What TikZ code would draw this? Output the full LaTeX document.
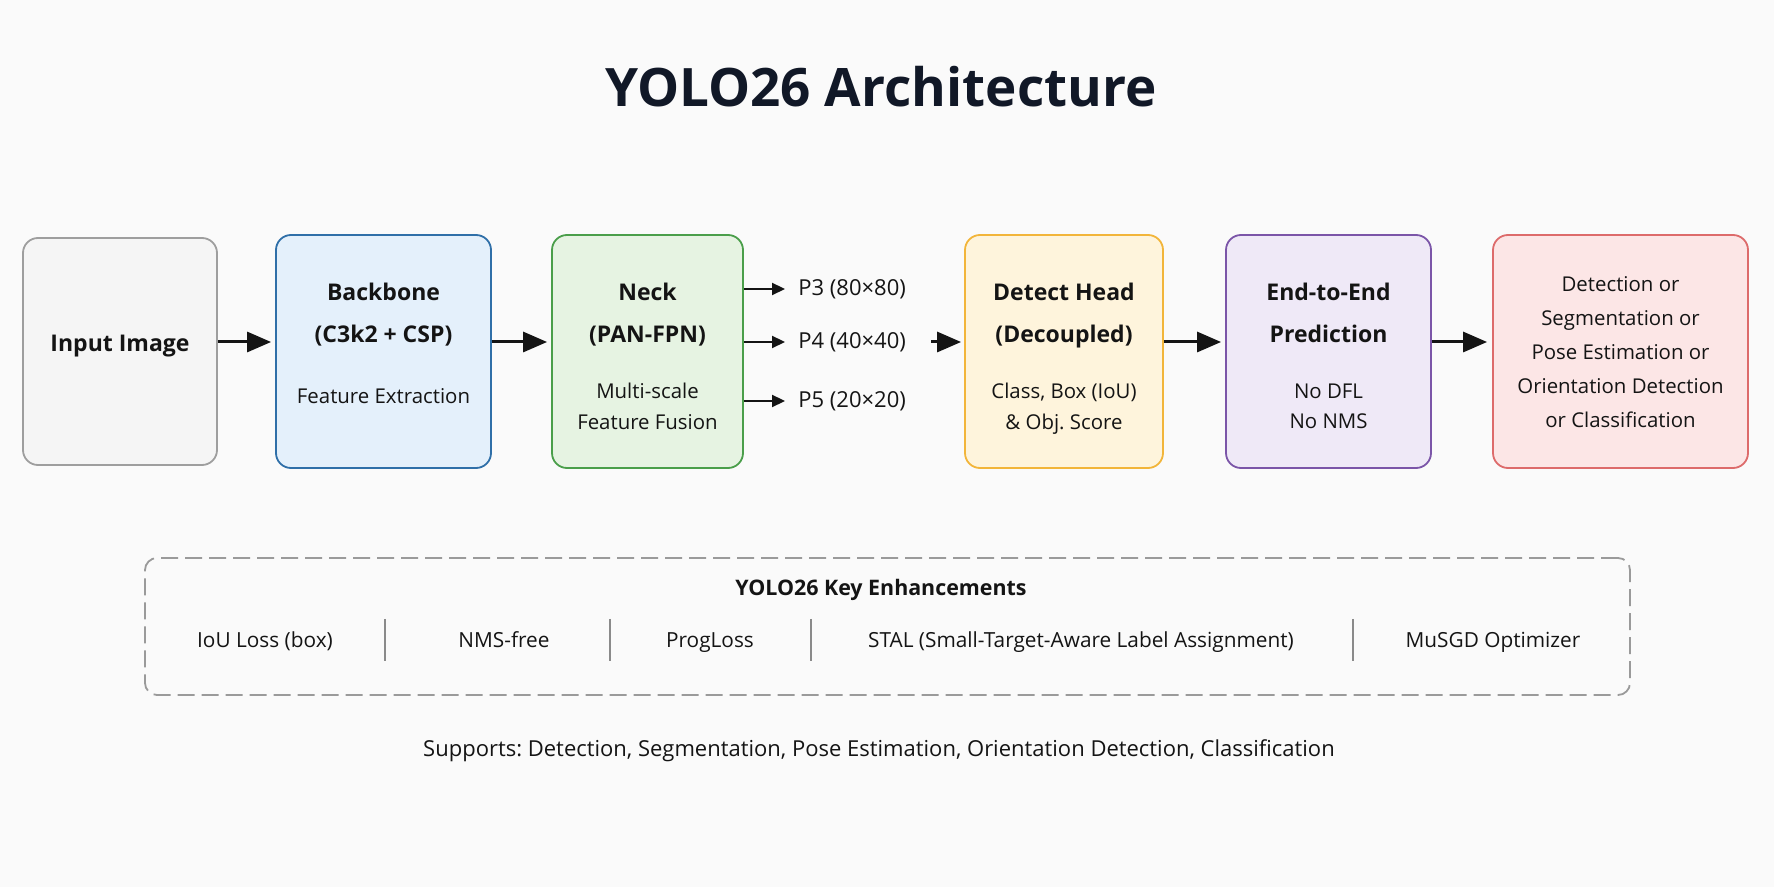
\documentclass[tikz,border=0pt]{standalone}
\usepackage{fontspec}
\setmainfont{Open Sans}
\usetikzlibrary{arrows.meta,calc}
\frenchspacing
\definecolor{bgc}{HTML}{FAFAFA}
\definecolor{ink}{HTML}{141414}
\definecolor{titlec}{HTML}{111827}
\definecolor{inF}{HTML}{F5F5F5}\definecolor{inD}{HTML}{9E9E9E}
\definecolor{bbF}{HTML}{E4F0FB}\definecolor{bbD}{HTML}{2F6FA8}
\definecolor{nkF}{HTML}{E6F3E2}\definecolor{nkD}{HTML}{4A9E4A}
\definecolor{dhF}{HTML}{FEF4DC}\definecolor{dhD}{HTML}{F2B53A}
\definecolor{eeF}{HTML}{EFE9F7}\definecolor{eeD}{HTML}{7B55A8}
\definecolor{ouF}{HTML}{FCE6E6}\definecolor{ouD}{HTML}{DD6B6B}
\definecolor{dashc}{HTML}{9A9A9A}
\definecolor{sepc}{HTML}{8A8A8A}
\begin{document}
\frenchspacing
\begin{tikzpicture}[x=0.5pt,y=-0.5pt,
  box/.style={rounded corners=7.5pt, line width=0.9pt, inner sep=0pt},
  bt/.style={font=\fontsize{11.5}{14}\selectfont\bfseries, text=ink, anchor=base, inner sep=0pt},
  rt/.style={font=\fontsize{10.2}{12}\selectfont, text=ink, anchor=base, inner sep=0pt},
  lt/.style={font=\fontsize{11}{13}\selectfont, text=ink, anchor=base, inner sep=0pt},
  arr/.style={-{Triangle[length=12pt,width=10pt]}, line width=1.5pt, draw=ink},
  parr/.style={-{Triangle[length=6.5pt,width=6pt]}, line width=1.1pt, draw=ink},
  sepline/.style={draw=sepc, line width=0.8pt}]
\fill[bgc] (0,0) rectangle (1774,887);
\useasboundingbox (0,0) rectangle (1774,887);
% title
\node[anchor=base, inner sep=0pt, text=titlec, font=\fontsize{26.5}{32}\selectfont\bfseries] (title) at (881,107) {YOLO26 Architecture};
% boxes
\node[box, fill=inF, draw=inD, minimum width=97pt, minimum height=113.5pt] (in) at (120,351.5) {};
\node[box, fill=bbF, draw=bbD, minimum width=107.5pt, minimum height=116.5pt] (bb) at (383.5,351.5) {};
\node[box, fill=nkF, draw=nkD, minimum width=95.5pt, minimum height=116.5pt] (nk) at (647.5,351.5) {};
\node[box, fill=dhF, draw=dhD, minimum width=99pt, minimum height=116.5pt] (dh) at (1064,351.5) {};
\node[box, fill=eeF, draw=eeD, minimum width=102.5pt, minimum height=116.5pt] (ee) at (1328.5,351.5) {};
\node[box, fill=ouF, draw=ouD, minimum width=127.5pt, minimum height=116.5pt] (ou) at (1620.5,351.5) {};
% box texts
\node[bt] (in1) at (120,352) {Input Image};
\node[bt] (bb1) at (383.5,301) {Backbone};
\node[bt] (bb2) at (383.5,343) {(C3k2 + CSP)};
\node[rt] (bb3) at (383.5,404) {Feature Extraction};
\node[bt] (nk1) at (647.5,301) {Neck};
\node[bt] (nk2) at (647.5,343) {(PAN-FPN)};
\node[rt] (nk3) at (647.5,399) {Multi-scale};
\node[rt] (nk4) at (647.5,430) {Feature Fusion};
\node[bt] (dh1) at (1064,301) {Detect Head};
\node[bt] (dh2) at (1064,343) {(Decoupled)};
\node[rt] (dh3) at (1064,399) {Class, Box (IoU)};
\node[rt] (dh4) at (1064,430) {\& Obj. Score};
\node[bt] (ee1) at (1328.5,301) {End-to-End};
\node[bt] (ee2) at (1328.5,343) {Prediction};
\node[rt] (ee3) at (1328.5,399) {No DFL};
\node[rt] (ee4) at (1328.5,429) {No NMS};
\node[rt] (ou1) at (1620.5,292) {Detection or};
\node[rt] (ou2) at (1620.5,326) {Segmentation or};
\node[rt] (ou3) at (1620.5,360) {Pose Estimation or};
\node[rt] (ou4) at (1620.5,394) {Orientation Detection};
\node[rt] (ou5) at (1620.5,428) {or Classification};
% scale outputs
\node[lt, anchor=base west] (p3) at (798,296) {P3 (80×80)};
\node[lt, anchor=base west] (p4) at (798,349) {P4 (40×40)};
\node[lt, anchor=base west] (p5) at (798,408) {P5 (20×20)};
\coordinate (ay) at (0,342);
\coordinate (p3y) at (0,289);
\coordinate (p5y) at (0,401);
% connectors
\draw[arr, shorten >=2pt] (in.east |- ay) -- (bb.west |- ay);
\draw[arr, shorten >=2pt] (bb.east |- ay) -- (nk.west |- ay);
\draw[parr, shorten >=6.5pt] (nk.east |- p3y) -- (p3.west |- p3y);
\draw[parr, shorten >=6.5pt] (nk.east |- ay) -- (p4.west |- ay);
\draw[parr, shorten >=6.5pt] (nk.east |- p5y) -- (p5.west |- p5y);
\draw[arr, shorten <=12.5pt, shorten >=1.5pt] (p4.east |- ay) -- (dh.west |- ay);
\draw[arr, shorten >=2pt] (dh.east |- ay) -- (ee.west |- ay);
\draw[arr, shorten >=2.5pt] (ee.east |- ay) -- (ou.west |- ay);
% enhancements
\node[draw=dashc, line width=0.9pt, dash pattern=on 8.5pt off 3.5pt, rounded corners=6pt, minimum width=742.5pt, minimum height=68.5pt, inner sep=0pt] (enh) at (887.5,626.5) {};
\node[font=\fontsize{10.7}{13}\selectfont\bfseries, text=ink, anchor=base, inner sep=0pt] (enht) at (881,595.5) {YOLO26 Key Enhancements};
\node[rt, font=\fontsize{10.4}{12}\selectfont] (e1) at (265,647) {IoU Loss (box)};
\node[rt, font=\fontsize{10.4}{12}\selectfont] (e2) at (504,647) {NMS-free};
\node[rt, font=\fontsize{10.4}{12}\selectfont] (e3) at (710,647) {ProgLoss};
\node[rt, font=\fontsize{10.4}{12}\selectfont] (e4) at (1081,647) {STAL (Small-Target-Aware Label Assignment)};
\node[rt, font=\fontsize{10.4}{12}\selectfont] (e5) at (1493,647) {MuSGD Optimizer};
\coordinate (s1) at (385,619); \coordinate (s1b) at (385,661);
\coordinate (s2) at (610,619); \coordinate (s2b) at (610,661);
\coordinate (s3) at (811,619); \coordinate (s3b) at (811,661);
\coordinate (s4) at (1353,619); \coordinate (s4b) at (1353,661);
\draw[sepline] (s1) -- (s1b);
\draw[sepline] (s2) -- (s2b);
\draw[sepline] (s3) -- (s3b);
\draw[sepline] (s4) -- (s4b);
% supports
\node[lt] (sup) at (879,756) {Supports: Detection, Segmentation, Pose Estimation, Orientation Detection, Classification};
\end{tikzpicture}
\end{document}
